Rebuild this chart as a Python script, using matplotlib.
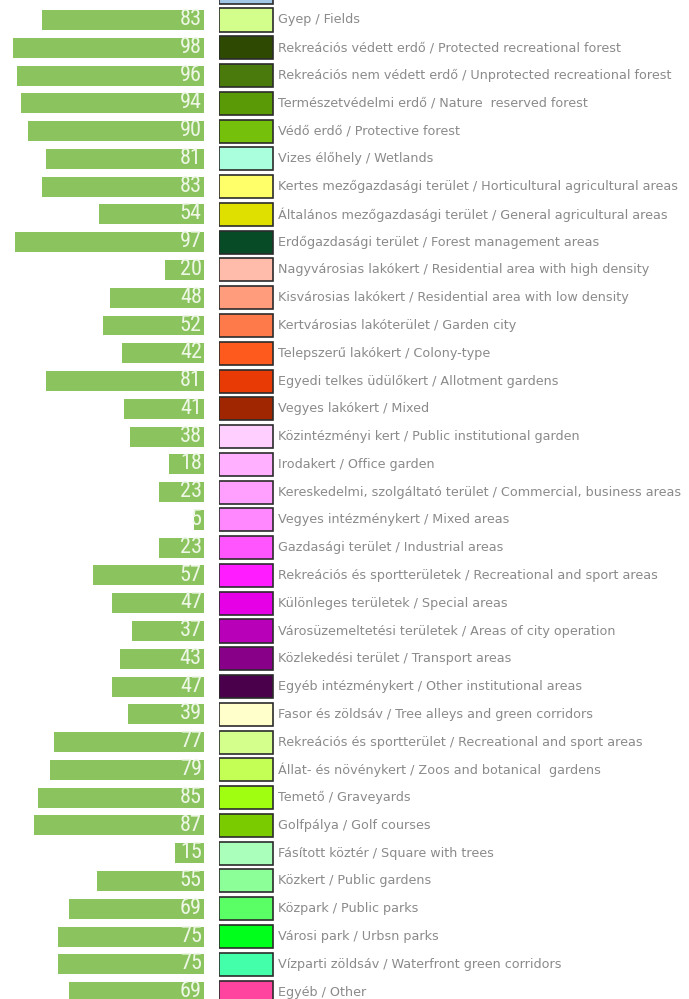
import matplotlib
matplotlib.use("Agg")
import matplotlib.pyplot as plt
from matplotlib import font_manager

# land use categories (Hungarian / English), from top to bottom
labels = [
    "Gyep / Fields",
    "Rekreációs védett erdő / Protected recreational forest",
    "Rekreációs nem védett erdő / Unprotected recreational forest",
    "Természetvédelmi erdő / Nature  reserved forest",
    "Védő erdő / Protective forest",
    "Vizes élőhely / Wetlands",
    "Kertes mezőgazdasági terület / Horticultural agricultural areas",
    "Általános mezőgazdasági terület / General agricultural areas",
    "Erdőgazdasági terület / Forest management areas",
    "Nagyvárosias lakókert / Residential area with high density",
    "Kisvárosias lakókert / Residential area with low density",
    "Kertvárosias lakóterület / Garden city",
    "Telepszerű lakókert / Colony-type",
    "Egyedi telkes üdülőkert / Allotment gardens",
    "Vegyes lakókert / Mixed",
    "Közintézményi kert / Public institutional garden",
    "Irodakert / Office garden",
    "Kereskedelmi, szolgáltató terület / Commercial, business areas",
    "Vegyes intézménykert / Mixed areas",
    "Gazdasági terület / Industrial areas",
    "Rekreációs és sportterületek / Recreational and sport areas",
    "Különleges területek / Special areas",
    "Városüzemeltetési területek / Areas of city operation",
    "Közlekedési terület / Transport areas",
    "Egyéb intézménykert / Other institutional areas",
    "Fasor és zöldsáv / Tree alleys and green corridors",
    "Rekreációs és sportterület / Recreational and sport areas",
    "Állat- és növénykert / Zoos and botanical  gardens",
    "Temető / Graveyards",
    "Golfpálya / Golf courses",
    "Fásított köztér / Square with trees",
    "Közkert / Public gardens",
    "Közpark / Public parks",
    "Városi park / Urbsn parks",
    "Vízparti zöldsáv / Waterfront green corridors",
    "Egyéb / Other",
]

values = [83, 98, 96, 94, 90, 81, 83, 54, 97, 20, 48, 52, 42, 81, 41,
          38, 18, 23, 5, 23, 57, 47, 37, 43, 47, 39, 77, 79, 85, 87,
          15, 55, 69, 75, 75, 69]

swatch_colors = [
    "#d4fe8c", "#2e4a02", "#4a7a0c", "#5a9a06", "#74c00a", "#aaffdc",
    "#ffff6a", "#e0e000", "#064a26", "#ffbcaa", "#ff9c7c", "#ff7a4a",
    "#ff5a1e", "#e83a04", "#a02602", "#ffd0ff", "#ffb0ff", "#ffa0ff",
    "#ff88ff", "#ff55ff", "#ff1cff", "#e600e6", "#b800b8", "#880088",
    "#4a004a", "#ffffcc", "#d4ff8c", "#c4ff55", "#a0ff10", "#7acc00",
    "#aaffbb", "#8cff99", "#5aff66", "#00ff1a", "#44ffaa", "#ff44a0",
]

# row cut off at the top of the picture (only the swatch shows)
top_cut_color = "#a2c6e6"

bar_color = "#8bc45e"
num_color = "#eef7e6"
text_color = "#8a8a8a"

# pick a narrow face for the numbers if there is one
avail = {f.name for f in font_manager.fontManager.ttflist}
narrow = [n for n in ["Liberation Sans Narrow", "Roboto Condensed",
                      "Open Sans Condensed", "DejaVu Sans Condensed"] if n in avail]
num_font = narrow[0] if narrow else "DejaVu Sans"
num_size = 16 if narrow else 14

fig = plt.figure(figsize=(6.89, 9.99), dpi=100)

rows = list(range(1, len(values) + 1))
ylim = (36.25, 0.28)

# bars growing leftwards
ax = fig.add_axes([0, 0, 204 / 689, 1])
ax.barh(rows, values, height=0.72, color=bar_color)
ax.set_xlim(104.6, 0)
ax.set_ylim(*ylim)
ax.axis("off")
for r, v in zip(rows, values):
    ax.annotate(str(v), (0, r), xytext=(-1.5, 0.3), textcoords="offset points",
                ha="right", va="center", fontsize=num_size, family=num_font,
                fontstretch="condensed", color=num_color, annotation_clip=False)

# legend-like swatches with labels
ax2 = fig.add_axes([219 / 689, 0, 470 / 689, 1])
ax2.barh([0] + rows, 54, height=0.83, left=0,
         color=[top_cut_color] + swatch_colors,
         edgecolor="#2b2b2b", linewidth=1.2)
ax2.set_xlim(0, 470)
ax2.set_ylim(*ylim)
ax2.axis("off")
for r, lab in zip(rows, labels):
    ax2.text(59, r, lab, ha="left", va="center", fontsize=9.15,
             family="DejaVu Sans", color=text_color)

fig.savefig("out.png", dpi=100)
